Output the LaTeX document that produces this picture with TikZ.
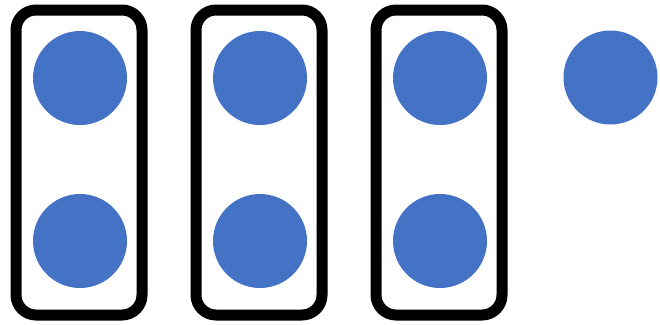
\documentclass[tikz,border=0pt]{standalone}
\usepackage{tikz}
\definecolor{dotblue}{HTML}{4472C4}

\begin{document}
\begin{tikzpicture}[x=1pt,y=-1pt]
        \tikzset{dot/.style = {shape=circle,fill=dotblue,minimum size=94pt,inner sep=0pt}}
        \tikzset{pair/.style = {shape=rectangle,draw,line width=11pt,rounded corners=20pt,minimum width=126pt,minimum height=305pt,inner sep=0pt}}
        \useasboundingbox (0,0) rectangle (660,324);

        \node[pair] (p1) at (79,162.5) {};
        \node[pair] (p2) at (259,162.5) {};
        \node[pair] (p3) at (439,162.5) {};

        \node[dot] (a1) at (80,78) {};
        \node[dot] (a2) at (80,241) {};
        \node[dot] (b1) at (260,78) {};
        \node[dot] (b2) at (260,241) {};
        \node[dot] (c1) at (440,78) {};
        \node[dot] (c2) at (440,241) {};
        \node[dot] (d1) at (610.5,77.5) {};
    \end{tikzpicture}
\end{document}
